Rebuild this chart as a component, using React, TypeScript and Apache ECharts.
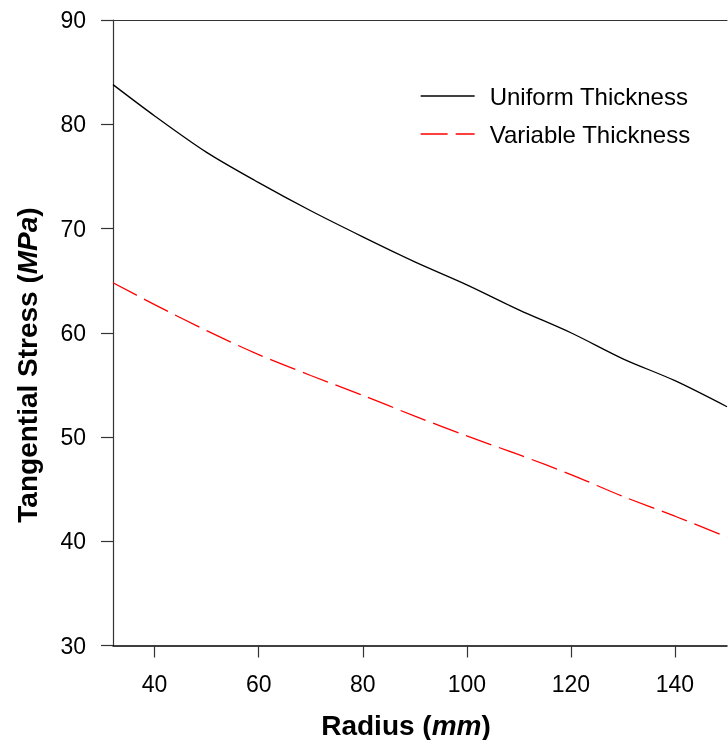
import React, { useEffect, useRef } from 'react';
import * as echarts from 'echarts';

const radius = [32, 40, 50, 60, 70, 80, 90, 100, 110, 120, 130, 140, 150];
const uniformThickness = [83.8, 80.8, 77.3, 74.4, 71.7, 69.2, 66.8, 64.6, 62.2, 60.0, 57.5, 55.4, 52.9];
const variableThickness = [64.8, 62.7, 60.2, 57.9, 55.9, 54.0, 52.0, 50.1, 48.3, 46.4, 44.3, 42.4, 40.4];
const xTickValues = [40, 60, 80, 100, 120, 140];
const xMin = 32;
const xMax = 150;
const yMin = 30;
const yMax = 90;
const yStep = 10;
const seriesNames = ['Uniform Thickness', 'Variable Thickness'];

export default function App() {
  const ref = useRef<HTMLDivElement>(null);
  useEffect(() => {
    const chart = echarts.init(ref.current as HTMLDivElement, null, { renderer: 'svg' });
    const font = '"Liberation Sans", Arial, Helvetica, sans-serif';
    const axisColor = '#333';
    const dash = [27, 8];
    chart.setOption({
      animation: false,
      textStyle: { fontFamily: font },
      grid: { left: 113, top: 20, right: 1, bottom: 94.5, containLabel: false },
      legend: {
        orient: 'vertical',
        left: 415,
        top: 79,
        itemWidth: 54,
        itemHeight: 20,
        itemGap: 14,
        itemStyle: { opacity: 0 },
        textStyle: { fontSize: 24, color: '#000', fontFamily: font, padding: [0, 0, 0, 10] },
        data: [
          { name: seriesNames[0], itemStyle: { opacity: 0 }, lineStyle: { color: '#000', width: 1.3, type: 'solid' } },
          { name: seriesNames[1], itemStyle: { opacity: 0 }, lineStyle: { color: '#ff0000', width: 1.3, type: dash } },
        ],
      },
      xAxis: [
        {
          type: 'value',
          min: xMin,
          max: xMax,
          axisLine: { show: true, lineStyle: { color: '#000', width: 1.5 } },
          axisTick: { show: true, inside: false, length: 12, customValues: xTickValues, lineStyle: { color: axisColor, width: 1.2 } },
          axisLabel: { show: true, margin: 27, customValues: xTickValues, fontSize: 23, color: '#000', fontFamily: font },
          splitLine: { show: false },
        },
        {
          type: 'value',
          position: 'top',
          min: xMin,
          max: xMax,
          axisLine: { show: true, onZero: false, lineStyle: { color: axisColor, width: 1.2 } },
          axisTick: { show: false },
          axisLabel: { show: false },
          splitLine: { show: false },
        },
      ],
      yAxis: {
        type: 'value',
        min: yMin,
        max: yMax,
        interval: yStep,
        axisLine: { show: true, onZero: false, lineStyle: { color: axisColor, width: 1.2 } },
        axisTick: { show: true, inside: false, length: 12, lineStyle: { color: axisColor, width: 1.2 } },
        axisLabel: { margin: 27, fontSize: 23, color: '#000', fontFamily: font },
        splitLine: { show: false },
      },
      graphic: [
        {
          type: 'text',
          x: 406,
          y: 725,
          style: {
            text: 'Radius ({i|mm})',
            fontSize: 28,
            fontWeight: 'bold',
            fontFamily: font,
            fill: '#000',
            align: 'center',
            verticalAlign: 'middle',
            rich: { i: { fontStyle: 'italic', fontWeight: 'bold', fontSize: 28, fontFamily: font, fill: '#000' } },
          },
        },
        {
          type: 'text',
          x: 27,
          y: 365,
          rotation: Math.PI / 2,
          style: {
            text: 'Tangential Stress ({i|MPa})',
            fontSize: 28,
            fontWeight: 'bold',
            fontFamily: font,
            fill: '#000',
            align: 'center',
            verticalAlign: 'middle',
            rich: { i: { fontStyle: 'italic', fontWeight: 'bold', fontSize: 28, fontFamily: font, fill: '#000' } },
          },
        },
      ],
      series: [
        {
          name: seriesNames[0],
          type: 'line',
          xAxisIndex: 0,
          data: radius.map((r, i) => [r, uniformThickness[i]]),
          smooth: 0.3,
          symbol: 'none',
          lineStyle: { color: '#000', width: 1.3, type: 'solid' },
          itemStyle: { color: '#000' },
        },
        {
          name: seriesNames[1],
          type: 'line',
          xAxisIndex: 0,
          data: radius.map((r, i) => [r, variableThickness[i]]),
          smooth: 0.3,
          symbol: 'none',
          lineStyle: { color: '#ff0000', width: 1.3, type: dash },
          itemStyle: { color: '#ff0000' },
        },
      ],
    });
    return () => chart.dispose();
  }, []);
  return <div ref={ref} style={{ position: 'fixed', left: 0, top: 0, width: 728, height: 740 }} />;
}
